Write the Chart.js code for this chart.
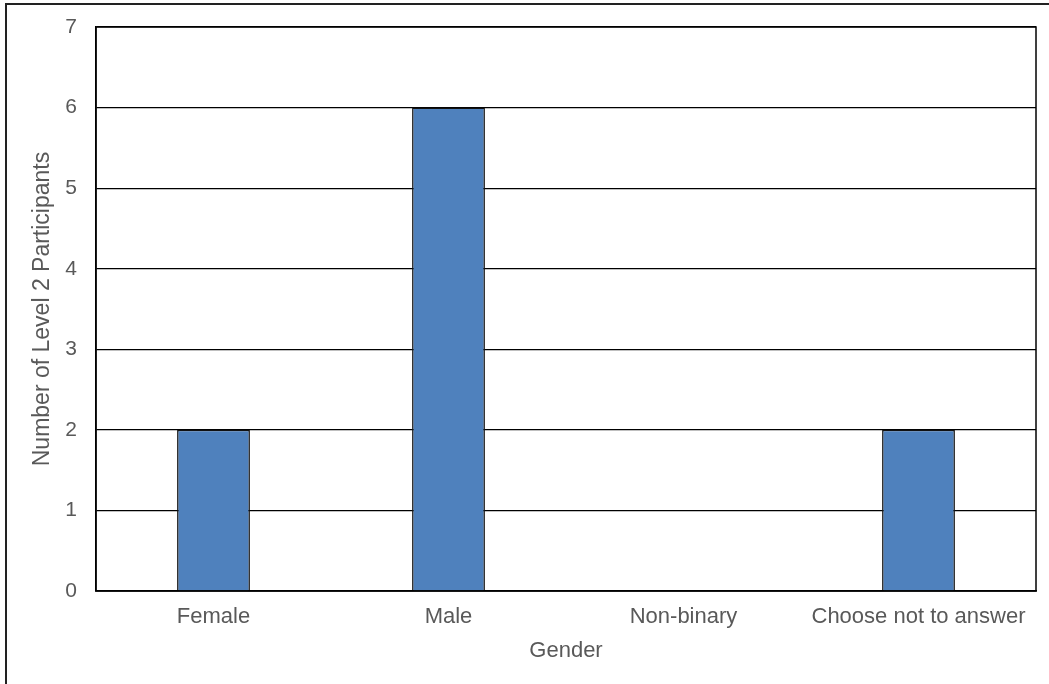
<!DOCTYPE html>
<html lang="en">
<head>
    <meta charset="UTF-8">
    <title>Gender</title>
    <script src="https://cdn.jsdelivr.net/npm/chart.js"></script>
    <style>
        body { margin: 0; background: #fff; }
        .moldura {
            position: absolute; left: 5px; top: 3px;
            width: 1100px; height: 760px;
            border: 2px solid #222; box-sizing: border-box;
        }
        .grafico { position: absolute; left: 0; top: 0; width: 1049px; height: 684px; }
    </style>
</head>
<body>
    <div class="moldura"></div>
    <div class="grafico">
        <canvas id="myChartCanvas" width="1049" height="684"></canvas>
    </div>

<script>
    var categorias = ['Female', 'Male', 'Non-binary', 'Choose not to answer'];
    var participantes = [2, 6, 0, 2];
    var ticksY = [0, 1, 2, 3, 4, 5, 6, 7];

    // borda da area do grafico
    const bordaArea = {
        id: 'bordaArea',
        afterDraw(chart) {
            const a = chart.chartArea;
            const ctx = chart.ctx;
            ctx.save();
            ctx.strokeStyle = '#000';
            ctx.lineWidth = 1.5;
            ctx.strokeRect(a.left, a.top, a.right - a.left, a.bottom - a.top);
            ctx.restore();
        }
    };

    const fonte = 'Liberation Sans, Arial';

    const config = {
        type: 'bar',
        data: {
            labels: categorias,
            datasets: [{
                label: 'Participants',
                data: participantes,
                backgroundColor: '#4F81BD',
                borderColor: '#111',
                borderWidth: 1.5,
                categoryPercentage: 1,
                barPercentage: 0.31
            }]
        },
        options: {
            responsive: false,
            animation: false,
            layout: { padding: { left: 25, top: 27, right: 13, bottom: 16 } },
            plugins: { legend: { display: false }, tooltip: { enabled: false } },
            scales: {
                x: {
                    grid: { display: false },
                    border: { color: '#000', width: 1.5 },
                    ticks: { color: '#595959', font: { family: fonte, size: 22 }, padding: 5 },
                    title: { display: true, text: 'Gender', color: '#595959', font: { family: fonte, size: 22 } },
                    afterFit(scale) {
                        scale.height = 684 - 591 - 16;
                        scale.paddingLeft = 0;
                        scale.paddingRight = 0;
                    }
                },
                y: {
                    min: 0, max: 7,
                    afterBuildTicks(scale) { scale.ticks = ticksY.map(v => ({ value: v })); },
                    grid: { color: '#000', lineWidth: 1.2, drawTicks: false },
                    border: { color: '#000', width: 1.5 },
                    ticks: { color: '#595959', font: { family: fonte, size: 21 }, padding: 19 },
                    title: { display: true, text: 'Number of Level 2 Participants', color: '#595959', font: { family: fonte, size: 23 } },
                    afterFit(scale) {
                        scale.width = 96 - 25;
                        scale.paddingTop = 0;
                        scale.paddingBottom = 0;
                    }
                }
            }
        },
        plugins: [bordaArea]
    };

    new Chart(document.getElementById('myChartCanvas'), config);
</script>
</body>
</html>
